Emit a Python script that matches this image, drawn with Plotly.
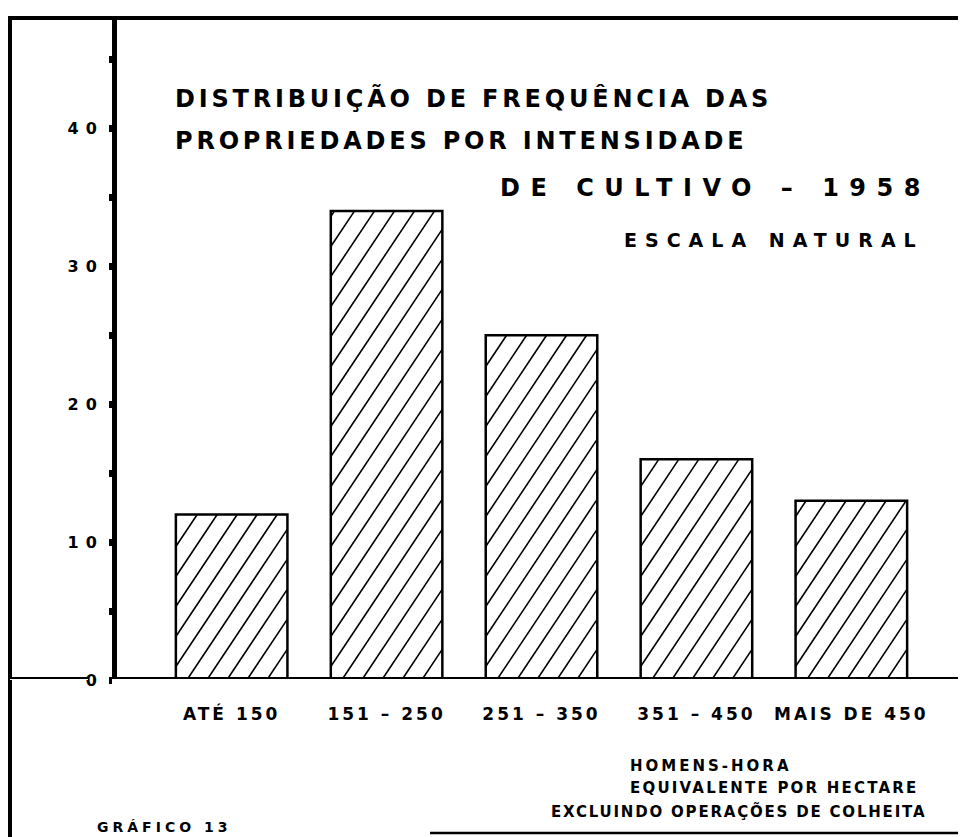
import plotly.graph_objects as go

# ---------------- data ----------------
categories = ["ATÉ 150", "151 – 250", "251 – 350", "351 – 450", "MAIS DE 450"]
frequencies = [12, 34, 25, 16, 13]
y_tick_values = [0, 10, 20, 30, 40]
y_tick_labels = ["0", "10", "20", "30", "40"]

title_line1 = "DISTRIBUIÇÃO DE FREQUÊNCIA DAS"
title_line2 = "PROPRIEDADES POR INTENSIDADE"
title_line3 = "DE CULTIVO – 1958"
scale_note = "ESCALA NATURAL"
x_title_lines = ["HOMENS-HORA", "EQUIVALENTE POR HECTARE", "EXCLUINDO OPERAÇÕES DE COLHEITA"]
figure_label = "GRÁFICO 13"

# ---------------- geometry / style ----------------
OFF = 8                      # page margin of the html body
FIG_W, FIG_H = 966, 837
M_L, M_R, M_T, M_B = 109, 8, 10, 165
PLOT_W = FIG_W - M_L - M_R
PLOT_H = FIG_H - M_T - M_B
X_RANGE = [-0.74, 4.74]
Y_RANGE = [0, 48]
BAR_W = 0.72
FONT = "DejaVu Sans"


def px_x(x):
    """page x pixel -> paper coordinate"""
    return (x - OFF - M_L) / PLOT_W


def px_y(y):
    """page y pixel -> paper coordinate"""
    return (FIG_H - M_B - (y - OFF)) / PLOT_H


def spaced(text, ls):
    return f'<span style="letter-spacing:{ls}px">{text}</span>'


# pixels per data unit (for the hatching geometry)
SX = PLOT_W / (X_RANGE[1] - X_RANGE[0])
SY = PLOT_H / (Y_RANGE[1] - Y_RANGE[0])
HATCH_STEP = 20.0   # px between hatch lines (horizontal)
HATCH_SLOPE = 1.5   # px up per px right

xs = list(range(len(categories)))

hx, hy = [], []
for c, v in zip(xs, frequencies):
    L = (c - BAR_W / 2) * SX
    R = (c + BAR_W / 2) * SX
    H = v * SY
    x0 = L + 11 - HATCH_STEP * int(H / HATCH_SLOPE / HATCH_STEP + 2)
    while x0 < R:
        t0 = max(0.0, L - x0)
        t1 = min(H / HATCH_SLOPE, R - x0)
        if t1 > t0 + 1:
            hx += [(x0 + t0) / SX, (x0 + t1) / SX, None]
            hy += [HATCH_SLOPE * t0 / SY, HATCH_SLOPE * t1 / SY, None]
        x0 += HATCH_STEP

fig = go.Figure()
fig.add_trace(go.Bar(
    x=xs, y=frequencies, width=BAR_W,
    marker=dict(color="white", line=dict(color="black", width=2.5)),
    showlegend=False, hoverinfo="skip",
))
fig.add_trace(go.Scatter(
    x=hx, y=hy, mode="lines",
    line=dict(color="black", width=1.6),
    showlegend=False, hoverinfo="skip",
))

txt_font = dict(family=FONT, color="black", weight="bold")

fig.update_layout(
    width=FIG_W, height=FIG_H, autosize=False,
    margin=dict(l=M_L, r=M_R, t=M_T, b=M_B, pad=0),
    paper_bgcolor="white", plot_bgcolor="white",
    showlegend=False,
    xaxis=dict(
        range=X_RANGE, showgrid=False, zeroline=False, showline=False,
        tickmode="array", tickvals=xs,
        ticktext=[spaced(c, 3) for c in categories],
        ticks="", ticklabelstandoff=22,
        tickfont=dict(family=FONT, size=17, color="black", weight="bold"),
        fixedrange=True,
    ),
    yaxis=dict(
        range=Y_RANGE, showgrid=False, zeroline=False,
        showline=True, linecolor="black", linewidth=5,
        tickmode="array", tickvals=y_tick_values,
        ticktext=[spaced(t, 7) for t in y_tick_labels],
        ticks="outside", ticklen=3, tickwidth=7, tickcolor="black",
        minor=dict(dtick=5, tick0=0, ticks="outside", ticklen=3, tickwidth=7, tickcolor="black"),
        ticklabelstandoff=2,
        tickfont=dict(family=FONT, size=16, color="black", weight="bold"),
        fixedrange=True,
    ),
)

shapes = []
# outer frame (left and top) and bottom rule
shapes.append(dict(type="line", xref="paper", yref="paper",
                   x0=px_x(10), x1=px_x(10), y0=px_y(16), y1=px_y(845),
                   line=dict(color="black", width=4)))
shapes.append(dict(type="line", xref="paper", yref="paper",
                   x0=px_x(8), x1=px_x(975), y0=px_y(18), y1=px_y(18),
                   line=dict(color="black", width=4)))
shapes.append(dict(type="line", xref="paper", yref="paper",
                   x0=px_x(430), x1=px_x(975), y0=px_y(833), y1=px_y(833),
                   line=dict(color="black", width=2.5)))
# double base line at zero (interrupted by the "0" label)
for xa, xb in [(px_x(10), px_x(88)), (px_x(112), px_x(975))]:
    shapes.append(dict(type="line", xref="paper", yref="y",
                       x0=xa, x1=xb, y0=0, y1=0,
                       line=dict(color="black", width=6)))
    shapes.append(dict(type="line", xref="paper", yref="y",
                       x0=xa, x1=xb, y0=0, y1=0,
                       line=dict(color="white", width=2)))
fig.update_layout(shapes=shapes)

annotations = [
    dict(text=spaced(title_line1, 3.8), x=px_x(173), y=px_y(98), xanchor="left",
         font=dict(size=24, **txt_font)),
    dict(text=spaced(title_line2, 3.8), x=px_x(173), y=px_y(141), xanchor="left",
         font=dict(size=24, **txt_font)),
    dict(text=spaced(title_line3, 10.5), x=px_x(498), y=px_y(188), xanchor="left",
         font=dict(size=24, **txt_font)),
    dict(text=spaced(scale_note, 8), x=px_x(622), y=px_y(240), xanchor="left",
         font=dict(size=19, **txt_font)),
    dict(text=spaced(x_title_lines[0], 3), x=px_x(628), y=px_y(766), xanchor="left",
         font=dict(size=15, **txt_font)),
    dict(text=spaced(x_title_lines[1], 2.2), x=px_x(628), y=px_y(788), xanchor="left",
         font=dict(size=15, **txt_font)),
    dict(text=spaced(x_title_lines[2], 1.8), x=px_x(928), y=px_y(811), xanchor="right",
         font=dict(size=15, **txt_font)),
    dict(text=spaced(figure_label, 4), x=px_x(95), y=px_y(827), xanchor="left",
         font=dict(size=14, **txt_font)),
]
for a in annotations:
    a.update(xref="paper", yref="paper", yanchor="middle", showarrow=False)
fig.update_layout(annotations=annotations)

fig.write_html("out.html")
